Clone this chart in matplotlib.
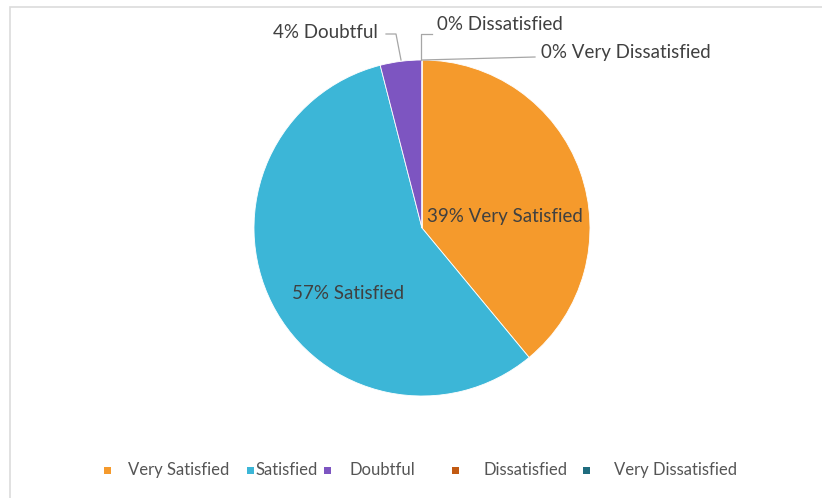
import matplotlib
matplotlib.use("Agg")
import matplotlib.pyplot as plt
from matplotlib.patches import Rectangle

categories = ["Very Satisfied", "Satisfied", "Doubtful", "Dissatisfied", "Very Dissatisfied"]
values = [39, 57, 4, 0, 0]
colors = ["#F59A2C", "#3CB6D7", "#7D55C1", "#C25A12", "#1F6C7E"]

W, H = 822, 498
fig = plt.figure(figsize=(W / 100, H / 100), dpi=100)
fig.patch.set_facecolor("white")

# light frame
fig.add_artist(Rectangle((10 / W, -0.1), 1.0, 1 - 7 / H + 0.1, transform=fig.transFigure,
                         fill=False, edgecolor="#dcdcdc", linewidth=1.2))

cx, cy, R = 422, 228, 168
ax = fig.add_axes([(cx - R) / W, (H - cy - R) / H, 2 * R / W, 2 * R / H])

wedges, _ = ax.pie(values, colors=colors, startangle=90, counterclock=False, radius=1,
                   wedgeprops=dict(edgecolor="white", linewidth=0.6))
ax.set_xlim(-1, 1)
ax.set_ylim(-1, 1)
ax.set_aspect("equal")
ax.axis("off")

def d(px, py):
    return ((px - cx) / R, (cy - py) / R)

font = "Lato"
tc = "#404040"
fs = 13.5
labels = [f"{v}% {c}" for v, c in zip(values, categories)]

ax.text(*d(505, 216), labels[0], ha="center", va="center", fontsize=fs, color=tc, family=font)
ax.text(*d(348, 293), labels[1], ha="center", va="center", fontsize=fs, color=tc, family=font)

lc = "#a6a6a6"
# Doubtful
ax.plot(*zip(d(386, 34), d(396, 34), d(401, 60)), color=lc, lw=0.9, clip_on=False)
ax.text(*d(378, 32), labels[2], ha="right", va="center", fontsize=fs, color=tc, family=font)
# Dissatisfied
ax.plot(*zip(d(421, 60), d(421, 34), d(432, 34)), color=lc, lw=0.9, clip_on=False)
ax.text(*d(437, 24), labels[3], ha="left", va="center", fontsize=fs, color=tc, family=font)
# Very Dissatisfied
ax.plot(*zip(d(422, 60), d(535, 57)), color=lc, lw=0.9, clip_on=False)
ax.text(*d(541, 52), labels[4], ha="left", va="center", fontsize=fs, color=tc, family=font)

# legend
sq_x = [107, 250, 327, 455, 586]
tx_x = [128, 255, 349, 483, 614]
ly = 470
for c, col, sx, tx in zip(categories, colors, sq_x, tx_x):
    fig.add_artist(Rectangle(((sx - 3.5) / W, (H - ly - 3.5) / H), 7 / W, 7 / H,
                             transform=fig.transFigure, facecolor=col, edgecolor="none"))
    fig.text(tx / W, (H - ly) / H, c, ha="left", va="center", fontsize=12, color="#555555",
             family=font)

fig.savefig("out.png", dpi=100)
